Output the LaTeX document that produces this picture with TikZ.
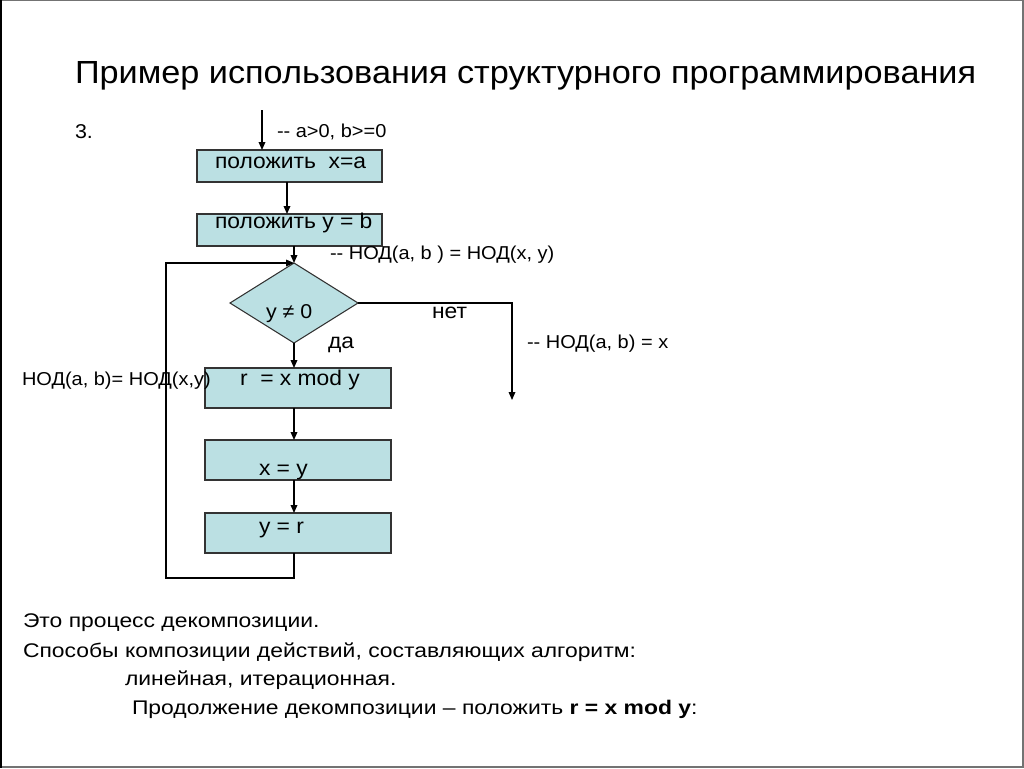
\documentclass[tikz,border=0pt]{standalone}
\usepackage{fontspec}
\setmainfont[FakeStretch=1.07]{Liberation Sans}
\newfontfamily\widefont[FakeStretch=1.16]{Liberation Sans}
\usetikzlibrary{arrows.meta}
\definecolor{boxfill}{RGB}{187,224,227}
\begin{document}
\begin{tikzpicture}[x=0.75pt,y=-0.75pt,
  every node/.style={inner sep=0pt,outer sep=0pt},
  lbl/.style={anchor=base west,font=\fontsize{14pt}{16pt}\selectfont},
  btxt/.style={anchor=base west,font=\fontsize{16pt}{18pt}\selectfont},
  body/.style={anchor=base west,font=\widefont\fontsize{14.8pt}{17pt}\selectfont},
  blk/.style={draw=black!80,line width=0.8pt,fill=boxfill},
  flow/.style={line width=0.9pt,-{Triangle[length=6pt,width=5pt]}},
  plain/.style={line width=0.9pt}]
\useasboundingbox (0,0) rectangle (1024,768);
\draw[black!55,line width=1pt] (0.5,0.5) rectangle (1023,767);
\draw[black,line width=1.5pt] (0.7,0) -- (0.7,768);
% title
\node[anchor=base west,font=\fontsize{24pt}{28pt}\selectfont] (title) at (75,83) {Пример использования структурного программирования};
\node[anchor=base west,font=\fontsize{15pt}{17pt}\selectfont] (num) at (75,138) {3.};
% boxes
\path[blk] (197,150) rectangle (382,182);
\path[blk] (197,214) rectangle (382,246);
\path[blk] (205,368) rectangle (391,408);
\path[blk] (205,440) rectangle (391,480);
\path[blk] (205,513) rectangle (391,553);
\path[blk] (294,263) -- (358,303) -- (294,343) -- (230,303) -- cycle;
% named anchor coordinates
\coordinate (start) at (262,110);
\coordinate (b1top) at (262,150);
\coordinate (b1bot) at (287,182);
\coordinate (b2top) at (287,214);
\coordinate (b2bot) at (294,246);
\coordinate (dtop) at (294,263);
\coordinate (dright) at (358,303);
\coordinate (dbot) at (294,343);
\coordinate (noend) at (512,400);
\coordinate (b3top) at (294,368);
\coordinate (b3bot) at (294,408);
\coordinate (b4top) at (294,440);
\coordinate (b4bot) at (294,480);
\coordinate (b5top) at (294,513);
\coordinate (b5bot) at (294,553);
% connectors
\draw[flow] (start) -- (b1top);
\draw[flow] (b1bot) -- (b2top);
\draw[flow] (b2bot) -- (dtop);
\draw[flow] (dbot) -- (b3top);
\draw[flow] (b3bot) -- (b4top);
\draw[flow] (b4bot) -- (b5top);
\draw[flow] (dright) -- (512,303) -- (noend);
\draw[flow] (b5bot) -- (294,578) -- (166,578) -- (166,263) -- (dtop);
% texts
\node[lbl] (pre) at (277,137) {{-}{-} a>0, b>=0};
\node[btxt] (t1) at (215,168) {положить \ x=a};
\node[btxt] (t2) at (215,228) {положить y = b};
\node[lbl] (inv) at (330,259) {{-}{-} НОД(a, b ) = НОД(x, y)};
\node[lbl,font=\fontsize{15pt}{17pt}\selectfont] (cond) at (266,318) {y ≠ 0};
\node[btxt] (no) at (432,318) {нет};
\node[btxt] (yes) at (328,348) {да};
\node[lbl] (post) at (527,348) {{-}{-} НОД(a, b) = x};
\node[lbl] (inv2) at (22,385) {НОД(a, b)= НОД(x,y)};
\node[btxt] (t3) at (240,385) {r \ = x mod y};
\node[btxt] (t4) at (259,475) {x = y};
\node[btxt] (t5) at (259,533) {y = r};
% bottom text
\node[body] (l1) at (23,627) {Это процесс декомпозиции.};
\node[body] (l2) at (23,657) {Способы композиции действий, составляющих алгоритм:};
\node[body] (l3) at (125,685) {линейная, итерационная.};
\node[body] (l4) at (132,714) {Продолжение декомпозиции – положить \textbf{r = x mod y}:};
\end{tikzpicture}
\end{document}
